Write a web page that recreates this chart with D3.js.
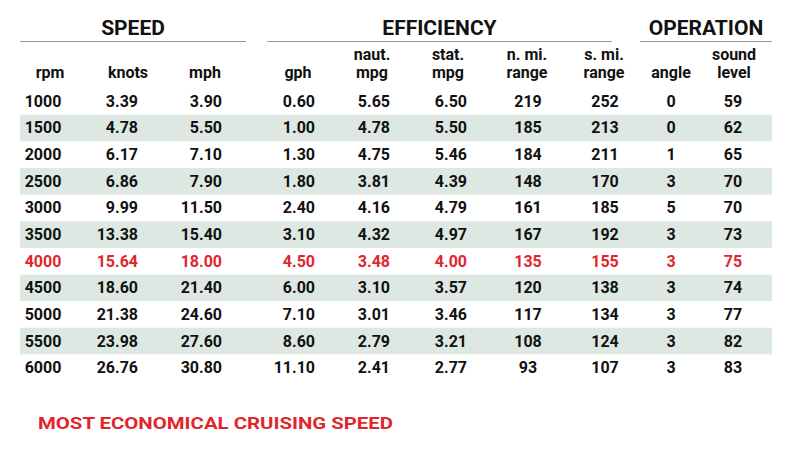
<!DOCTYPE html>
<html><head><meta charset="utf-8">
<script src="https://cdn.jsdelivr.net/npm/d3@7"></script>
<style>body{margin:0;background:#fff}text{font-family:Roboto,"Liberation Sans",sans-serif;font-weight:bold}</style>
</head><body><svg id="t" width="800" height="465"></svg>
<script>
var rpm = ["1000","1500","2000","2500","3000","3500","4000","4500","5000","5500","6000"];
var knots = ["3.39","4.78","6.17","6.86","9.99","13.38","15.64","18.60","21.38","23.98","26.76"];
var mph = ["3.90","5.50","7.10","7.90","11.50","15.40","18.00","21.40","24.60","27.60","30.80"];
var gph = ["0.60","1.00","1.30","1.80","2.40","3.10","4.50","6.00","7.10","8.60","11.10"];
var nautMpg = ["5.65","4.78","4.75","3.81","4.16","4.32","3.48","3.10","3.01","2.79","2.41"];
var statMpg = ["6.50","5.50","5.46","4.39","4.79","4.97","4.00","3.57","3.46","3.21","2.77"];
var nmiRange = ["219","185","184","148","161","167","135","120","117","108","93"];
var smiRange = ["252","213","211","170","185","192","155","138","134","124","107"];
var angle = ["0","0","1","3","5","3","3","3","3","3","3"];
var sound = ["59","62","65","70","70","73","75","74","77","82","83"];
var highlightRpm = "4000";

var columns = [
  {h:["rpm"], v:rpm, hx:50, vx:43, anchor:"middle"},
  {h:["knots"], v:knots, hx:128, vx:138, anchor:"end"},
  {h:["mph"], v:mph, hx:205, vx:222, anchor:"end"},
  {h:["gph"], v:gph, hx:298, vx:315, anchor:"end"},
  {h:["naut.","mpg"], v:nautMpg, hx:372, vx:390, anchor:"end"},
  {h:["stat.","mpg"], v:statMpg, hx:448, vx:467, anchor:"end"},
  {h:["n. mi.","range"], v:nmiRange, hx:527, vx:528, anchor:"middle"},
  {h:["s. mi.","range"], v:smiRange, hx:604, vx:605, anchor:"middle"},
  {h:["angle"], v:angle, hx:671, vx:671, anchor:"middle"},
  {h:["sound","level"], v:sound, hx:734, vx:733, anchor:"middle"}
];
var groups = [{n:"SPEED",x0:20,x1:246},{n:"EFFICIENCY",x0:267,x1:612},{n:"OPERATION",x0:640,x1:772}];

var svg = d3.select("#t");
var y = d3.scaleBand().domain(rpm).range([88, 381]).padding(0);

groups.forEach(function(g){
  svg.append("text").attr("x",(g.x0+g.x1)/2).attr("y",35).attr("text-anchor","middle")
    .attr("font-size",21).attr("fill","#111").text(g.n);
  svg.append("line").attr("x1",g.x0).attr("x2",g.x1).attr("y1",41.5).attr("y2",41.5)
    .attr("stroke","#999").attr("stroke-width",1);
});

svg.selectAll("rect.band").data(rpm.filter(function(d,i){return i%2==1;})).enter()
  .append("rect").attr("x",20).attr("width",752)
  .attr("y",function(d){return y(d);}).attr("height",y.bandwidth())
  .attr("fill","#dde8e3");

columns.forEach(function(c){
  c.h.forEach(function(line,j){
    var yy = c.h.length==2 ? 60+j*18 : 78;
    svg.append("text").attr("x",c.hx).attr("y",yy).attr("text-anchor","middle")
      .attr("font-size",16).attr("fill","#111").text(line);
  });
  svg.selectAll(null).data(c.v).enter().append("text")
    .attr("x",c.vx).attr("y",function(d,i){return y(rpm[i])+y.bandwidth()/2+5.5;})
    .attr("text-anchor",c.anchor).attr("font-size",16)
    .attr("fill",function(d,i){return rpm[i]==highlightRpm?"#e1262b":"#111";})
    .text(function(d){return d;});
});

svg.append("text").attr("x",38).attr("y",429).attr("font-size",17).attr("fill","#e1262b")
  .attr("textLength",355).attr("lengthAdjust","spacingAndGlyphs")
  .text("MOST ECONOMICAL CRUISING SPEED");
</script></body></html>
